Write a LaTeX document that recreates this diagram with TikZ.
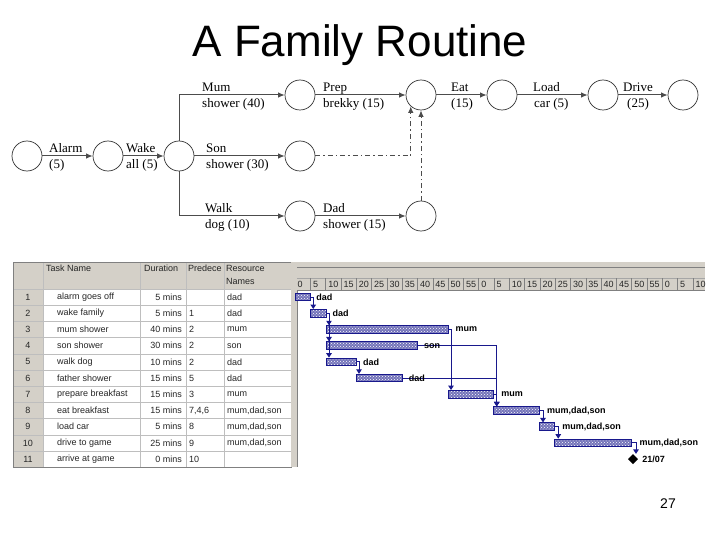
\documentclass[tikz,border=0pt]{standalone}
\usepackage{fontspec}
\setmainfont{Liberation Serif}
\setsansfont{Liberation Sans}
\usetikzlibrary{arrows.meta,patterns,shapes.geometric}
\definecolor{navy}{RGB}{24,24,140}
\definecolor{wingray}{RGB}{212,208,200}
\definecolor{gridgray}{RGB}{190,190,190}
\newcommand\mdsres{mum,dad,son}
\newcommand\eatpred{7,4,6}
\begin{document}
\begin{tikzpicture}[x=1pt,y=-1pt,
  ev/.style={circle,draw=black!80,line width=0.7pt,minimum size=30pt,inner sep=0pt},
  act/.style={draw=black!70,line width=1pt,-{Latex[length=6.5pt,width=5.5pt]}},
  dummy/.style={act,dash pattern=on 5pt off 3pt on 1.5pt off 3pt},
  nl/.style={anchor=base west,inner sep=0pt,font=\fontsize{13}{14}\selectfont},
  cell/.style={inner sep=0pt,font=\sffamily\fontsize{9}{10}\selectfont,text=black!85},
  gbar/.style={rectangle,draw=navy,line width=1pt,preaction={fill=navy!60},pattern=crosshatch dots,pattern color=white,minimum height=7.5pt,inner sep=0pt,anchor=west},
  glink/.style={draw=navy,line width=1pt,-{Triangle[length=4.5pt,width=5.5pt]}},
  glbl/.style={anchor=west,inner sep=0pt,font=\sffamily\bfseries\fontsize{9}{10}\selectfont},
]
\useasboundingbox (0,0) rectangle (720,540);
\fill[white] (0,0) rectangle (720,540);

% ---------- title and page number ----------
\node[anchor=base,inner sep=0pt,font=\sffamily\fontsize{44}{50}\selectfont] (title) at (360,57) {A Family Routine};
\node[anchor=base,inner sep=0pt,font=\sffamily\fontsize{14}{16}\selectfont] (pnum) at (668,508) {27};

% ---------- network ----------
\node[ev] (n0) at (27,156) {};
\node[ev] (n1) at (108,156) {};
\node[ev] (n2) at (179,156) {};
\node[ev] (m1) at (300,95) {};
\node[ev] (m2) at (421,95) {};
\node[ev] (m3) at (502,95) {};
\node[ev] (m4) at (603,95) {};
\node[ev] (m5) at (683,95) {};
\node[ev] (s1) at (300,156) {};
\node[ev] (d1) at (300,216) {};
\node[ev] (d2) at (421,216) {};

\draw[act] (n0) -- (n1);
\draw[act] (n1) -- (n2);
\draw[act] (n2.north) |- (m1.west);
\draw[act] (n2) -- (s1);
\draw[act] (n2.south) |- (d1.west);
\draw[act] (m1) -- (m2);
\draw[act] (m2) -- (m3);
\draw[act] (m3) -- (m4);
\draw[act] (m4) -- (m5);
\draw[act] (d1) -- (d2);
\draw[dummy] (s1.east) -| (m2.228);
\draw[dummy] (d2.north) -- (m2.south);

\node[nl] (tAl1) at (49,153) {Alarm};
\node[nl] (tAl2) at (49,169) {(5)};
\node[nl] (tWa1) at (126,153) {Wake};
\node[nl] (tWa2) at (126,169) {all (5)};
\node[nl] (tMu1) at (202,92) {Mum};
\node[nl] (tMu2) at (202,108) {shower (40)};
\node[nl] (tSo1) at (206,153) {Son};
\node[nl] (tSo2) at (206,169) {shower (30)};
\node[nl] (tWk1) at (205,213) {Walk};
\node[nl] (tWk2) at (205,229) {dog (10)};
\node[nl] (tPr1) at (323,92) {Prep};
\node[nl] (tPr2) at (323,108) {brekky (15)};
\node[nl] (tDa1) at (323,213) {Dad};
\node[nl] (tDa2) at (323,229) {shower (15)};
\node[nl] (tEa1) at (451,92) {Eat};
\node[nl] (tEa2) at (451,108) {(15)};
\node[nl] (tLo1) at (533,92) {Load};
\node[nl] (tLo2) at (534,108) {car (5)};
\node[nl] (tDr1) at (623,92) {Drive};
\node[nl] (tDr2) at (627,108) {(25)};

% ---------- table ----------
\fill[white] (13,262) rectangle (291,467.2);
\fill[wingray] (13,262) rectangle (291,289);
\fill[wingray] (13,289) rectangle (43,467.2);
\foreach \r in {0,...,11} \draw[gridgray] (13,{289+16.2*\r}) -- (291,{289+16.2*\r});
\foreach \x in {43,140,186,224} \draw[gridgray] (\x,262) -- (\x,467.2);
\draw[gray] (13,262) rectangle (291,467.2);
\fill[wingray] (291,262) rectangle (297,467.2);
\draw[gray] (297,262) -- (297,467.2);

\node[cell,anchor=west] (hTask) at (46,268) {Task Name};
\node[cell,anchor=west] (hDur) at (144,268) {Duration};
\node[cell,anchor=west] (hPre) at (188,268) {Predece};
\node[cell,anchor=west] (hRes1) at (226,268) {Resource};
\node[cell,anchor=west] (hRes2) at (226,281) {Names};

\foreach \r/\tn/\du/\pr/\rs in {1/alarm goes off/5 mins/{}/dad,
  2/wake family/5 mins/1/dad,
  3/mum shower/40 mins/2/mum,
  4/son shower/30 mins/2/son,
  5/walk dog/10 mins/2/dad,
  6/father shower/15 mins/5/dad,
  7/prepare breakfast/15 mins/3/mum,
  8/eat breakfast/15 mins/\eatpred/\mdsres,
  9/load car/5 mins/8/\mdsres,
  10/drive to game/25 mins/9/\mdsres,
  11/arrive at game/0 mins/10/{}} {
  \pgfmathsetmacro\yy{297.1+(\r-1)*16.2}
  \node[cell] (rn\r) at (28,\yy) {\r};
  \node[cell,anchor=west] (tn\r) at (57,\yy) {\tn};
  \node[cell,anchor=east] (du\r) at (182,\yy) {\du};
  \node[cell,anchor=west] (pr\r) at (189,\yy) {\pr};
  \node[cell,anchor=west] (rs\r) at (227,\yy) {\rs};
}

% ---------- gantt header ----------
\fill[wingray] (297,262) rectangle (705,290);
\draw[gray] (297,267) -- (705,267);
\draw[gray!70] (297,278) -- (705,278);
\draw[gray] (297,290) -- (705,290);
\foreach \i in {1,...,26} \draw[gray] ({295+15.3*\i},278) -- ({295+15.3*\i},290);
\foreach \i in {0,...,26} {
  \pgfmathtruncatemacro\v{mod(5*\i,60)}
  \node[cell,anchor=west] (ts\i) at ({295+15.3*\i+2.5},284) {\v};
}

% ---------- gantt bars ----------
\node[gbar,minimum width=15.25pt] (b1) at (295,297.1) {};
\node[gbar,minimum width=15.25pt] (b2) at (310.25,313.3) {};
\node[gbar,minimum width=122pt] (b3) at (325.5,329.5) {};
\node[gbar,minimum width=91.5pt] (b4) at (325.5,345.7) {};
\node[gbar,minimum width=30.5pt] (b5) at (325.5,361.9) {};
\node[gbar,minimum width=45.75pt] (b6) at (356,378.1) {};
\node[gbar,minimum width=45.75pt] (b7) at (447.5,394.3) {};
\node[gbar,minimum width=45.75pt] (b8) at (493.25,410.5) {};
\node[gbar,minimum width=15.25pt] (b9) at (539,426.7) {};
\node[gbar,minimum width=76.25pt] (b10) at (554.25,442.9) {};
\node[diamond,fill=black,inner sep=0pt,minimum size=10pt] (ms) at (633,459.1) {};

\draw[glink] (b1.east) -| ([xshift=3pt]b2.north west);
\draw[glink] (b2.east) -| ([xshift=3.5pt]b3.north west);
\draw[glink] (b2.east) -| ([xshift=3.5pt]b4.north west);
\draw[glink] (b2.east) -| ([xshift=3.5pt]b5.north west);
\draw[glink] (b5.east) -| ([xshift=3pt]b6.north west);
\draw[glink] (b3.east) -| ([xshift=3.5pt]b7.north west);
\draw[glink] (b4.east) -| ([xshift=3.5pt]b8.north west);
\draw[glink] (b6.east) -| ([xshift=3.5pt]b8.north west);
\draw[glink] (b7.east) -| ([xshift=3.5pt]b8.north west);
\draw[glink] (b8.east) -| ([xshift=4pt]b9.north west);
\draw[glink] (b9.east) -| ([xshift=4pt]b10.north west);
\draw[glink] (b10.east) -| ([xshift=3pt]ms.north);

\node[glbl] (l1) at ([xshift=5pt]b1.east) {dad};
\node[glbl] (l2) at ([xshift=6pt]b2.east) {dad};
\node[glbl] (l3) at ([xshift=7pt]b3.east) {mum};
\node[glbl] (l4) at ([xshift=6pt]b4.east) {son};
\node[glbl] (l5) at ([xshift=6pt]b5.east) {dad};
\node[glbl] (l6) at ([xshift=6pt]b6.east) {dad};
\node[glbl] (l7) at ([xshift=7pt]b7.east) {mum};
\node[glbl] (l8) at ([xshift=7pt]b8.east) {mum,dad,son};
\node[glbl] (l9) at ([xshift=7pt]b9.east) {mum,dad,son};
\node[glbl] (l10) at ([xshift=8pt]b10.east) {mum,dad,son};
\node[glbl] (l11) at ([xshift=4pt]ms.east) {21/07};
\end{tikzpicture}
\end{document}
